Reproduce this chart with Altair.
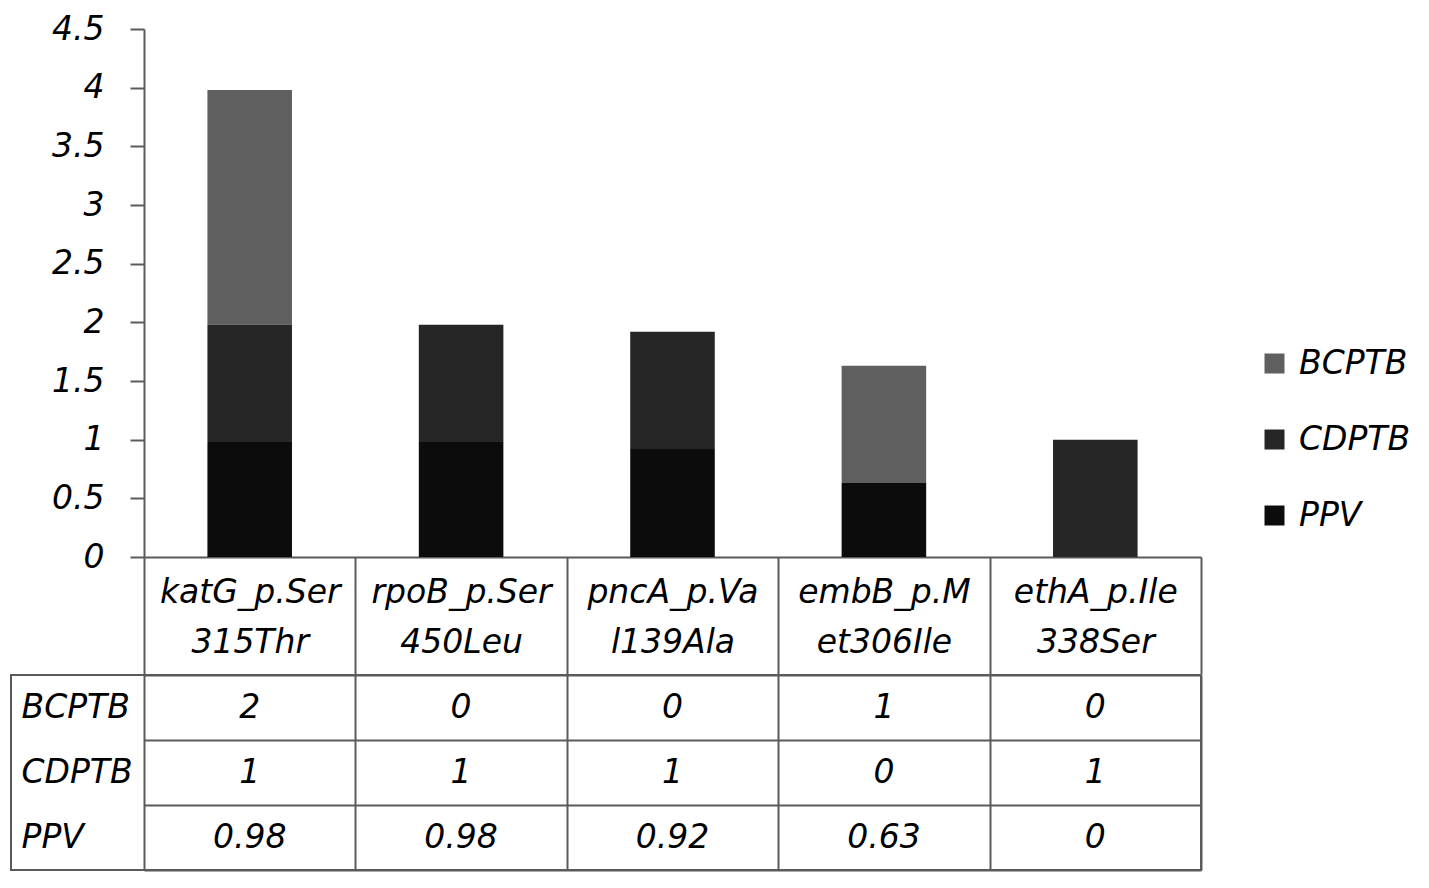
import altair as alt
import pandas as pd

# ---- data ----
categories = ["katG_p.Ser\n315Thr", "rpoB_p.Ser\n450Leu", "pncA_p.Va\nl139Ala",
              "embB_p.M\net306Ile", "ethA_p.Ile\n338Ser"]
series = ["BCPTB", "CDPTB", "PPV"]          # legend / table row order
bcptb = [2, 0, 0, 1, 0]
cdptb = [1, 1, 1, 0, 1]
ppv = [0.98, 0.98, 0.92, 0.63, 0]
y_ticks = [0, 0.5, 1, 1.5, 2, 2.5, 3, 3.5, 4, 4.5]
stack_rank = [2, 1, 0]                      # PPV at the bottom of each bar
colors = ["#5f5f5f", "#262626", "#0c0c0c"]

values = {"BCPTB": bcptb, "CDPTB": cdptb, "PPV": ppv}
rows = []
for s, rank in zip(series, stack_rank):
    for c, v in zip(categories, values[s]):
        rows.append({"cat": c, "series": s, "value": v, "rank": rank})
df = pd.DataFrame(rows)

FONT = "DejaVu Sans"
GRID = "#5a5a5a"
FS = 33

x_scale = alt.Scale(domain=categories, range=[133, 1190], paddingInner=0, paddingOuter=0)

bars = alt.Chart(df).mark_bar(width=alt.RelativeBandSize(0.4)).encode(
    x=alt.X("cat:N", sort=categories, scale=x_scale,
            axis=alt.Axis(title=None, orient="bottom", tickBand="extent", tickSize=117,
                          tickColor=GRID, tickWidth=2, domainColor=GRID, domainWidth=2,
                          labelExpr="split(datum.label, '\\n')", labelFont=FONT,
                          labelFontSize=FS, labelFontStyle="italic", labelColor="black",
                          labelBaseline="top", labelPadding=-98, labelLineHeight=50,
                          labelAngle=0, labelLimit=400, labelOverlap=False)),
    y=alt.Y("value:Q", stack="zero", scale=alt.Scale(domain=[0, 4.5], nice=False),
            axis=alt.Axis(title=None, values=y_ticks, labelExpr="datum.value + ''",
                          offset=-133, tickSize=14, tickColor=GRID, tickWidth=2,
                          domainColor=GRID, domainWidth=2, grid=False,
                          labelFont=FONT, labelFontSize=FS, labelFontStyle="italic",
                          labelColor="black", labelPadding=26)),
    color=alt.Color("series:N", scale=alt.Scale(domain=series, range=colors),
                    legend=alt.Legend(title=None, orient="none", legendX=1247, legendY=318,
                                      symbolType="square", symbolSize=400,
                                      symbolStrokeWidth=0, symbolOpacity=1,
                                      labelFont=FONT, labelFontSize=FS,
                                      labelFontStyle="italic", labelColor="black",
                                      rowPadding=42, labelOffset=8)),
    order=alt.Order("rank:Q", sort="ascending"),
).properties(width=1190, height=528, view=alt.ViewBackground(strokeOpacity=0))

table = alt.Chart(df).mark_text(font=FONT, fontSize=FS, fontStyle="italic",
                                color="black").encode(
    x=alt.X("cat:N", sort=categories, scale=x_scale,
            axis=alt.Axis(title=None, grid=True, tickBand="extent", ticks=False,
                          labels=False, domain=False, gridColor=GRID, gridWidth=2,
                          gridOpacity=1)),
    y=alt.Y("series:N", sort=series, scale=alt.Scale(paddingInner=0, paddingOuter=0),
            axis=alt.Axis(title=None, grid=True, tickBand="extent", ticks=False,
                          domain=False, gridColor=GRID, gridWidth=2, gridOpacity=1,
                          labelAlign="left", labelPadding=-10, labelFont=FONT,
                          labelFontSize=FS, labelFontStyle="italic", labelColor="black")),
    text=alt.Text("value:Q", format="~g"),
).properties(width=1190, height=195,
             view=alt.ViewBackground(stroke=GRID, strokeWidth=2))

chart = alt.vconcat(bars, table, spacing=-17).properties(
    padding={"left": 2, "top": 5, "right": 4, "bottom": 2}
)

chart.save("out.html", embed_options={"renderer": "svg", "actions": False})
